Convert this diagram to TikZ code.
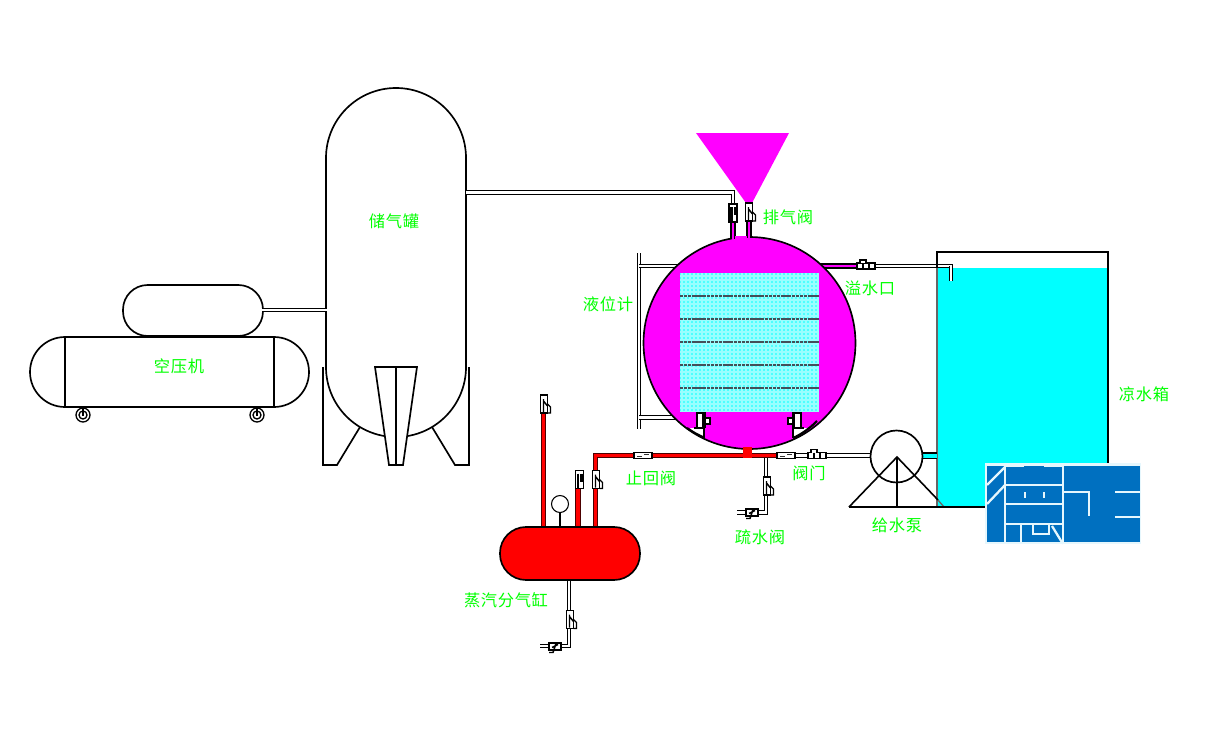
\documentclass[tikz,border=0pt]{standalone}
\usepackage{fontspec}
\usetikzlibrary{patterns.meta}
\newfontfamily\cjkf[LetterSpace=4]{Noto Sans CJK SC}
\definecolor{lab}{RGB}{0,255,0}
\definecolor{mag}{RGB}{255,0,255}
\definecolor{wat}{RGB}{0,255,255}
\definecolor{logoblue}{RGB}{0,112,192}
\definecolor{steam}{RGB}{255,0,0}
\tikzset{
 tag/.style={font=\cjkf\fontsize{12.2pt}{13pt}\selectfont,text=lab,inner sep=0pt},
 vessel/.style={draw=black,line width=1.25pt,fill=white},
 thin line/.style={draw=black,line width=1.2pt},
 wpipe/.style={draw=black,line width=1.05pt,double=white,double distance=1.6pt},
 rpipe/.style={draw=black!70!red,line width=.7pt,double=steam,double distance=2.4pt},
 mpipe/.style={draw=black,line width=.85pt,double=mag,double distance=2.2pt},
 logoline/.style={draw=white!90!cyan,line width=1.7pt},
 vv/.pic={\draw[black,line width=1.15pt,fill=white] (-3.5,-9) rectangle (3.5,9);
   \draw[black,line width=1.1pt] (-.5,-5) -- (-.5,8) (-.5,-3) -- (3.5,2);
   \draw[black,line width=1pt] (3.5,0) -- (6.5,3) -- (6.5,9) -- (3.5,9);},
 dvv/.pic={\draw[black,line width=1.15pt,fill=white] (-4,-9) rectangle (4,9);
   \draw[black,line width=2pt] (-1.5,-6) -- (-1.5,8) (2,-6) -- (2,2);},
 hv/.pic={\draw[black,line width=1.1pt,fill=white] (-9,-3) rectangle (9,3);
   \draw[black!80,line width=1.3pt] (-6,1) -- (-1,1) (1,-1) -- (6,-1);},
 tv/.pic={\draw[black,line width=1.1pt,fill=white] (-9,-3) rectangle (9,3);
   \draw[black,line width=1.1pt,fill=white] (-6,-3) -- (-6,-6) -- (0,-6) -- (0,-3);
   \draw[black,line width=1.1pt] (-3,-3) -- (-3,3) (3,-3) -- (3,3);},
 dv/.pic={\draw[black,line width=1.1pt,fill=white] (-6,-3.5) rectangle (6,3.5);
   \draw[black,line width=1.1pt] (-3,1) -- (3,-2) (1,-3) -- (-2,6) -- (-6,6);},
}
\begin{document}
\begin{tikzpicture}[x=.75pt,y=-.75pt]
\useasboundingbox (0,0) rectangle (1210,750);
% named points
\coordinate (tankR) at (466,192.5);
\coordinate (airCorner) at (733,192.5);
\coordinate (airValve) at (733,213);
\coordinate (compOut) at (262,310);
\coordinate (tankL) at (327,310);
\coordinate (ventValve) at (749,212);
\coordinate (overA) at (820,266);
\coordinate (overValve) at (866,266);
\coordinate (overCorner) at (951,266);
\coordinate (overEnd) at (951,281);
\coordinate (gaugeTop) at (639,253);
\coordinate (gaugeBot) at (639,429);
\coordinate (gaugeA) at (639,266);
\coordinate (gaugeB) at (639,417.5);
\coordinate (gaugeC) at (680,266);
\coordinate (gaugeD) at (680,417.5);
\coordinate (mainL) at (595.5,455.5);
\coordinate (mainR) at (786,455.5);
\coordinate (pumpIn) at (871,455.5);
\coordinate (drainTop) at (766,456);
\coordinate (drainCorner) at (766,512.5);
\coordinate (drainEnd) at (737,512.5);
\coordinate (hdrDrainTop) at (569,580);
\coordinate (hdrDrainCorner) at (569,646);
\coordinate (hdrDrainEnd) at (540,646);
% compressor
\draw[vessel,rounded corners=18.5pt] (123,285) rectangle (263,336);
\draw[vessel,rounded corners=26.25pt] (30,337) rectangle (309,407);
\draw[thin line] (65,337) -- (65,407) (274,337) -- (274,407);
\foreach \cx/\nm in {83/a,257/b}{
 \draw[black,line width=1pt] (\cx,415) circle[radius=7];
 \draw[black,line width=1pt] (\cx,415) circle[radius=4];
 \draw[thin line] (\cx,407) -- (\cx,416);
}
% legs and air tank
\draw[vessel] (323,367) -- (323,465) -- (337,465) -- (360,427);
\draw[vessel] (469,367) -- (469,465) -- (455,465) -- (432,427);
\draw[vessel,rounded corners=52.5pt] (326,88) rectangle (466,437);
\draw[vessel] (375,367) -- (417,367) -- (403,465) -- (389,465) -- cycle;
\draw[thin line] (396,367) -- (396,465);
% air pipes
\draw[wpipe] (compOut) -- (tankL);
\draw[wpipe] (tankR) -- (airCorner) -- (airValve);
% funnel
\fill[mag] (696,133) -- (789,133) -- (752,203) -- (746,203) -- cycle;
% gauge
\draw[wpipe] (gaugeTop) -- (gaugeBot);
\draw[wpipe] (gaugeA) -- (gaugeC);
\draw[wpipe] (gaugeB) -- (gaugeD);
% overflow
\draw[wpipe] (overValve) -- (overCorner) -- (overEnd);
\draw[mpipe] (overA) -- (overValve);
% vent stems
\draw[mpipe] (733,222) -- (733,240);
\draw[mpipe] (749,220) -- (749,240);
% boiler
\draw[draw=black,line width=1.25pt,fill=mag] (749.5,343) circle[radius=106];
\fill[mag] (735,236) rectangle (747,240);
\fill[mag] (731.8,232) rectangle (734.2,241);
\fill[mag] (747.8,232) rectangle (750.2,241);
% cover panel
\fill[wat!40!white] (680,273) rectangle (819,412);
\fill[pattern={Dots[radius=.7pt,distance=3pt]},pattern color=wat] (680,273) rectangle (819,412);
\foreach \yy in {296,319,342,365,388}
 \draw[black!75!cyan,line width=1pt,dash pattern=on 2.4pt off .5pt] (680,\yy) -- (819,\yy);
% brackets
\fill[white] (690,428) -- (704,428) -- (704,437.5) .. controls (698,434.8) and (693,431.7) .. cycle;
\draw[black,line width=1.6pt] (687,428) .. controls (692,431.5) and (698,435) .. (704,437.5);
\draw[black,line width=1pt] (704,437.5) -- (704,428) -- (694,428);
\fill[white] (808,428) -- (793,428) -- (793,438) .. controls (800,435) and (805,431.7) .. cycle;
\draw[black,line width=1.6pt] (817,421) .. controls (810,428) and (802,434) .. (793,438);
\draw[black,line width=1pt] (793,438) -- (793,428) -- (804,428);
\draw[black,line width=1pt,fill=white] (697,413) rectangle (703,428);
\draw[black,line width=1pt,fill=white] (794,413) rectangle (801,428);
\draw[black,line width=.9pt,fill=white] (705,418) rectangle (710,424);
\draw[black,line width=.9pt,fill=white] (788,418) rectangle (793,424);
\draw[black,line width=.9pt] (705,412) -- (705,428) (793,412) -- (793,428);
% feed and steam main
\draw[wpipe] (mainR) -- (pumpIn);
\draw[wpipe] (drainTop) -- (drainCorner) -- (drainEnd);
\draw[rpipe] (mainR) -- (mainL) -- (595.5,527);
\fill[steam] (743,447) rectangle (752,458);
% water tank
\fill[wat] (937,268) rectangle (1108,507);
\draw[black,line width=1.3pt] (937,268) -- (937,252) -- (1108,252) -- (1108,470);
\draw[black!60,line width=1pt] (937,268) -- (937,507);
\draw[wpipe] (overCorner) -- (overEnd);
\draw[black,line width=1.1pt] (922,453) -- (937,453) (922,458.5) -- (937,458.5);
\fill[wat] (922,454) rectangle (937,457.5);
% pump
\draw[vessel] (896.5,456.5) circle[radius=26];
\draw[thin line] (849,507) -- (897,457) -- (938,500);
\draw[black!60,line width=1pt] (938,500) -- (944,507);
\draw[black,line width=1.4pt] (849,507) -- (985,507);
\draw[black,line width=1.4pt] (897,457) -- (897,507);
% header
\draw[rpipe] (543.7,413) -- (543.7,527);
\draw[rpipe] (578,488) -- (578,527);
\draw[black,line width=1pt] (560,512) -- (560,527);
\draw[black,line width=.8pt,fill=white] (560,504) circle[radius=8.5];
\draw[wpipe] (hdrDrainTop) -- (hdrDrainCorner) -- (hdrDrainEnd);
\draw[draw=black,line width=1.25pt,fill=steam,rounded corners=19.5pt] (500,527) rectangle (640,580);
% valves
\pic at (airValve) {dvv};
\pic at (ventValve) {vv};
\pic at (overValve) {tv};
\pic at (544,404) {vv};
\pic at (579.5,479.5) {dvv};
\pic at (596,479.5) {vv};
\pic at (643,455.5) {hv};
\pic at (786,455.5) {hv};
\pic at (817,455.5) {tv};
\pic at (767,486) {vv};
\pic at (752,512.5) {dv};
\pic at (570,619.5) {vv};
\pic at (555,646.5) {dv};
% logo
\fill[white!90!cyan] (985,463) rectangle (1141,544);
\fill[logoblue] (987,466) rectangle (1140,542);
\draw[logoline] (987,485) -- (1005,467) (987,504) -- (1005,485);
\draw[logoline] (1005,466) -- (1005,543) (1063,466) -- (1063,543);
\draw[logoline] (1005,485) -- (1063,485) (1005,504) -- (1063,504) (1005,524) -- (1063,524);
\draw[logoline] (1025,492) -- (1025,498) (1044,492) -- (1044,498);
\draw[logoline] (1021,524) -- (1021,543);
\draw[logoline] (1033,525) -- (1033,534) -- (1049,534) -- (1049,525);
\draw[logoline] (1052,526) -- (1063,544);
\draw[logoline] (1063,492) -- (1089,492) -- (1089,516);
\draw[logoline] (1115,492) -- (1141,492) (1115,517) -- (1141,517);
\draw[logoline] (1006,466) -- (1024,466) (1044,466) -- (1063,466);
% labels
\node[tag] (l1) at (394,221) {储气罐};
\node[tag] (l2) at (179,366) {空压机};
\node[tag] (l3) at (788,217) {排气阀};
\node[tag] (l4) at (870,288) {溢水口};
\node[tag] (l5) at (608,304) {液位计};
\node[tag] (l6) at (1144,394) {凉水箱};
\node[tag] (l7) at (651,478) {止回阀};
\node[tag] (l8) at (809,473) {阀门};
\node[tag] (l9) at (760,537) {疏水阀};
\node[tag] (l10) at (897,525) {给水泵};
\node[tag] (l11) at (506,600) {蒸汽分气缸};
\end{tikzpicture}
\end{document}
